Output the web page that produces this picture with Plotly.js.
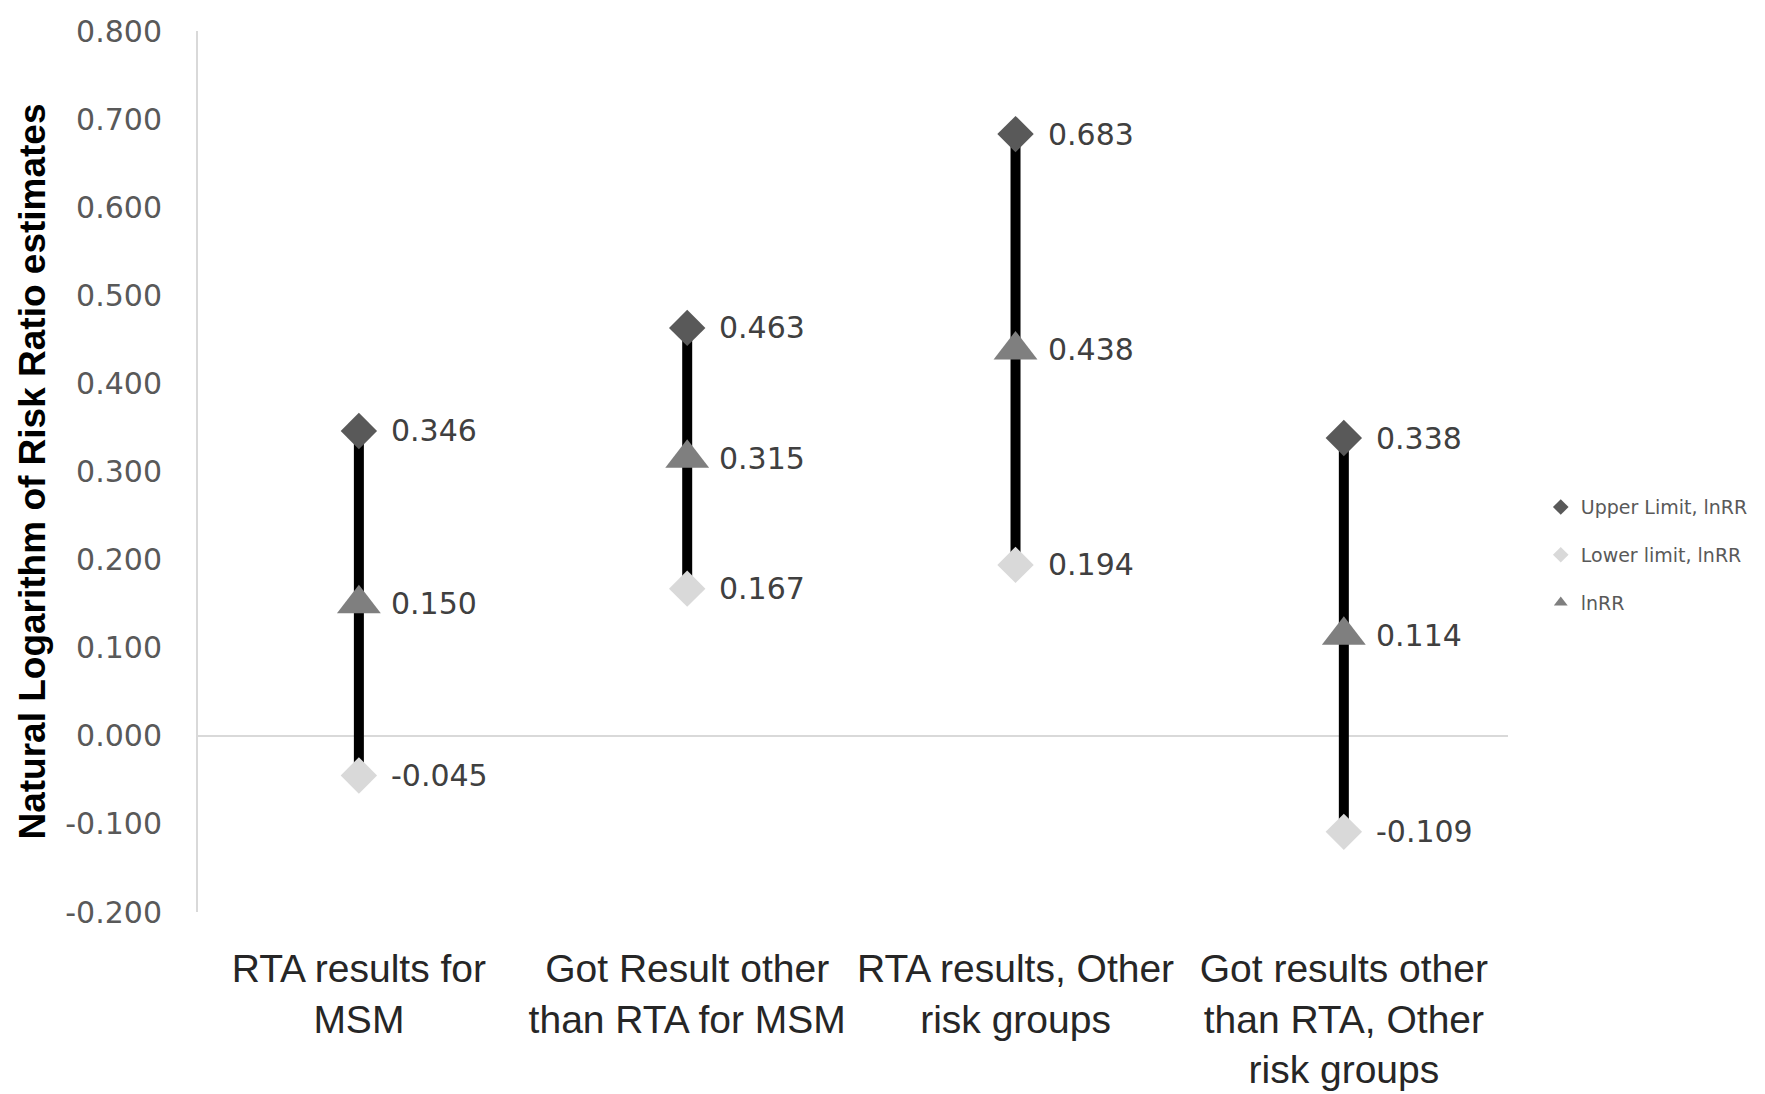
<!DOCTYPE html>
<html>
<head>
<meta charset="utf-8">
<script src="https://cdn.plot.ly/plotly-3.0.1.min.js"></script>
<style>html,body{margin:0;padding:0;background:#fff;}#chart{width:1765px;height:1094px;}</style>
</head>
<body>
<div id="chart"></div>
<script>
const categories = ["RTA results for<br>MSM", "Got Result other<br>than RTA for MSM", "RTA results, Other<br>risk groups", "Got results other<br>than RTA, Other<br>risk groups"];
const upperLimit = [0.346, 0.463, 0.683, 0.338];
const lowerLimit = [-0.045, 0.167, 0.194, -0.109];
const lnRR = [0.150, 0.315, 0.438, 0.114];
const seriesNames = ["Upper Limit, lnRR", "Lower limit, lnRR", "lnRR"];
const yTicks = [-0.2, -0.1, 0, 0.1, 0.2, 0.3, 0.4, 0.5, 0.6, 0.7, 0.8];

const labelFont = {family: "DejaVu Sans, Verdana, sans-serif", size: 30, color: "#404040"};

const traces = [
  {
    type: "scatter", mode: "markers", name: seriesNames[2], x: categories, y: lnRR,
    legendrank: 3, legendgroup: "c",
    marker: {symbol: "triangle-up", size: 38, color: "#7f7f7f"},
    error_y: {type: "data", symmetric: false,
      array: upperLimit.map((u, i) => u - lnRR[i]),
      arrayminus: lnRR.map((v, i) => v - lowerLimit[i]),
      color: "#000000", thickness: 10, width: 0}
  },
  {
    type: "scatter", mode: "markers", name: seriesNames[0], x: categories, y: upperLimit,
    legendrank: 1, legendgroup: "a",
    marker: {symbol: "diamond", size: 28, color: "#595959"}
  },
  {
    type: "scatter", mode: "markers", name: seriesNames[1], x: categories, y: lowerLimit,
    legendrank: 2, legendgroup: "b",
    marker: {symbol: "diamond", size: 28, color: "#d9d9d9"}
  }
];

const fmt = v => v.toFixed(3);
const annotations = [];
[upperLimit, lowerLimit, lnRR].forEach(arr => {
  arr.forEach((v, i) => {
    annotations.push({x: categories[i], y: v, xref: "x", yref: "y", text: fmt(v),
      showarrow: false, xanchor: "left", yanchor: "middle", xshift: 30, font: labelFont});
  });
});

const layout = {
  width: 1765, height: 1094,
  margin: {l: 198, r: 257, t: 31, b: 182, pad: 0, autoexpand: false},
  paper_bgcolor: "#ffffff", plot_bgcolor: "#ffffff",
  showlegend: true,
  legend: {x: 1.025, y: 0.405, xanchor: "left", yanchor: "middle",
    font: {family: "DejaVu Sans, Verdana, sans-serif", size: 19, color: "#595959"},
    itemsizing: "constant", traceorder: "grouped", tracegroupgap: 20, itemwidth: 30},
  xaxis: {
    type: "category", range: [-0.49, 3.5], showgrid: false, zeroline: false, showline: false, ticks: "",
    tickfont: {family: "Liberation Sans, Arial, sans-serif", size: 39, color: "#262626"},
    ticklabelstandoff: 30, fixedrange: true
  },
  yaxis: {
    range: [-0.2, 0.8], tickvals: yTicks, ticktext: yTicks.map(v => v.toFixed(3)),
    showgrid: false, zeroline: true, zerolinecolor: "#d9d9d9", zerolinewidth: 2,
    showline: true, linecolor: "#d9d9d9", linewidth: 2, ticks: "",
    tickfont: {family: "DejaVu Sans, Verdana, sans-serif", size: 30, color: "#595959"},
    ticklabelstandoff: 28,
    title: {text: "Natural Logarithm of Risk Ratio estimates",
      font: {family: "Liberation Sans, Arial, sans-serif", size: 37, color: "#000000", weight: "bold"},
      standoff: 8},
    fixedrange: true
  },
  annotations: annotations
};

Plotly.newPlot("chart", traces, layout, {displayModeBar: false, staticPlot: true});
</script>
</body>
</html>
